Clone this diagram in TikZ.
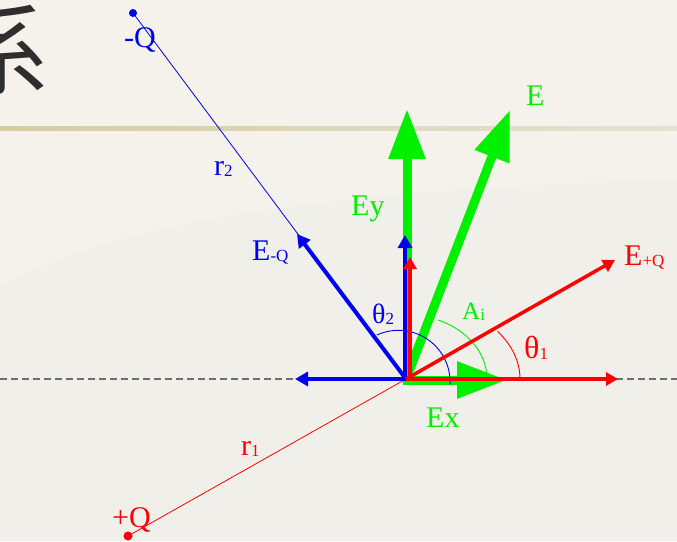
\documentclass[tikz,border=0pt]{standalone}
\usepackage{fontspec}
\setmainfont{Liberation Serif}
\newfontfamily\cjkfont{Noto Sans CJK SC}
\usetikzlibrary{arrows.meta}
\definecolor{bgcream}{HTML}{F4F2EA}
\definecolor{bggray}{HTML}{F0EFEA}
\definecolor{myblue}{HTML}{0000F0}
\definecolor{myred}{HTML}{FF0000}
\definecolor{mygreen}{HTML}{00F000}
\definecolor{bandl}{HTML}{D4CCA2}
\definecolor{bandr}{HTML}{E6E2D3}
\definecolor{dashgray}{HTML}{6E6E6E}
\definecolor{charcol}{HTML}{2E2E2E}
\newcommand{\mysub}[1]{{\fontsize{17}{17}\selectfont\raisebox{-1.5pt}{#1}}}
\begin{document}
\begin{tikzpicture}[x=1pt,y=-1pt,
  garrow/.style={draw=mygreen, line width=9pt, -{Triangle[length=50pt,width=35pt]}},
  barrow/.style={draw=myblue, line width=4pt, -{Triangle[length=13pt,width=14pt]}},
  rarrow/.style={draw=myred, line width=3.5pt, -{Triangle[length=12pt,width=13pt]}},
  thinline/.style={line width=0.8pt},
  arcline/.style={line width=0.9pt},
  lab/.style={inner sep=0pt, anchor=base west, font=\fontsize{30}{30}\selectfont},
  smalllab/.style={inner sep=0pt, anchor=base west, font=\fontsize{25}{25}\selectfont},
  charge/.style={circle, inner sep=0pt, minimum size=9pt}
]
\useasboundingbox (0,0) rectangle (677,541);
% background
\fill[bgcream] (0,0) rectangle (677,541);
\fill[bggray] (0,285) .. controls (120,225) and (300,190) .. (677,180) -- (677,541) -- (0,541) -- cycle;
\fill[left color=bandl, right color=bandr] (0,126) rectangle (677,130);
\node[font=\cjkfont\fontsize{100}{100}\selectfont, text=charcol, inner sep=0pt] (title) at (1,50) {系};

% coordinates
\coordinate (O) at (406,379);
\coordinate (dl) at (0,379);
\coordinate (dr) at (677,379);
\coordinate (tEQm) at (297,234);
\coordinate (tBx) at (295,379);
\coordinate (oBy) at (405,379);
\coordinate (tBy) at (405,235);
\coordinate (oRy) at (410,379);
\coordinate (tRy) at (410,257);
\coordinate (tRx) at (618,379);
\coordinate (tEQp) at (615,260);
\coordinate (oEy) at (407,382);
\coordinate (tEy) at (407,109);
\coordinate (tE) at (510,110);
\coordinate (oEx) at (403,380);
\coordinate (tEx) at (507,380);

% dashed axis
\draw[dashgray, line width=1.2pt, dash pattern=on 7pt off 4pt] (dl) -- (dr);

% charges and distance lines
\node[charge, fill=myblue, minimum size=8pt] (qm) at (133,13) {};
\node[charge, fill=myred] (qp) at (128,536) {};
\draw[myblue, thinline] (qm.center) -- (O);
\draw[myred, thinline] (qp.center) -- (O);

% green resultant and components
\draw[garrow] (oEy) -- (tEy);
\draw[garrow] (O) -- (tE);
\draw[garrow] (oEx) -- (tEx);

% angle arcs
\draw[myblue, arcline] (398.4,382) ++(114.8:51.7pt) arc[start angle=114.8, end angle=-3, radius=51.7pt];
\draw[mygreen, arcline] (O) ++(66.6:81pt and 64.3pt) arc[start angle=66.6, end angle=0, x radius=81pt, y radius=64.3pt];
\draw[myred, arcline] (O) ++(36.5:114pt and 80pt) arc[start angle=36.5, end angle=0, x radius=114pt, y radius=80pt];

% blue field of -Q and its components
\draw[barrow] (O) -- (tEQm);
\draw[barrow] (O) -- (tBx);
\draw[barrow] (oBy) -- (tBy);

% red field of +Q and its components
\draw[rarrow] (O) -- (tEQp);
\draw[rarrow] (O) -- (tRx);
\draw[rarrow] (oRy) -- (tRy);

% labels
\node[lab, text=myblue] (lQm) at (124,47) {-Q};
\node[lab, text=myred] (lQp) at (112,527) {+Q};
\node[lab, text=myblue] (lr2) at (214,175) {r\mysub{2}};
\node[lab, text=myred] (lr1) at (241,455) {r\mysub{1}};
\node[lab, text=myblue] (lEQm) at (252,260) {E\mysub{-Q}};
\node[lab, text=myred] (lEQp) at (624,265) {E\mysub{+Q}};
\node[lab, text=mygreen] (lE) at (526,105) {E};
\node[lab, text=mygreen] (lEy) at (351,215) {Ey};
\node[lab, text=mygreen] (lEx) at (426,427) {Ex};
\node[smalllab, text=myblue, font=\fontsize{28}{28}\selectfont] (lt2) at (372,323) {θ\mysub{2}};
\node[smalllab, text=myred, font=\fontsize{32}{32}\selectfont] (lt1) at (524,358) {θ\mysub{1}};
\node[smalllab, text=mygreen] (lAi) at (462,319) {A\mysub{i}};
\end{tikzpicture}
\end{document}
